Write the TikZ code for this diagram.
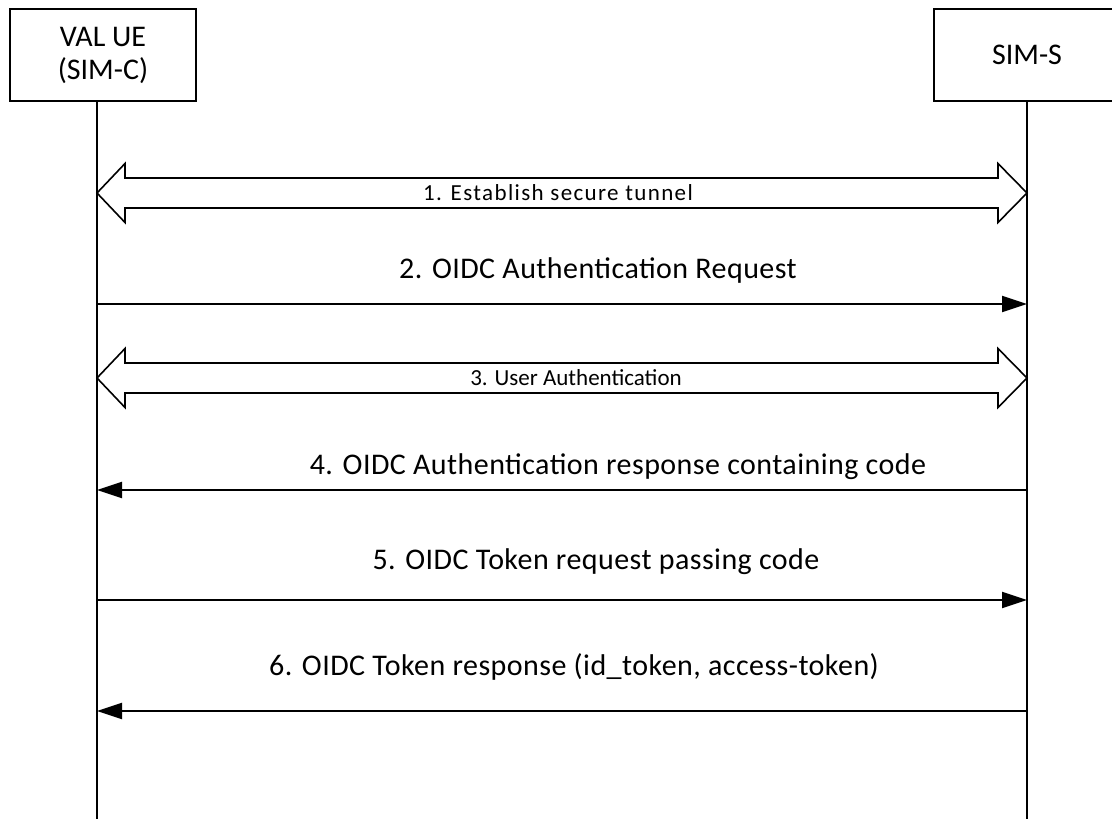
\documentclass[tikz,border=0pt]{standalone}
\usepackage{fontspec}
\setmainfont{Carlito}
\usetikzlibrary{arrows.meta}
\tikzset{
  actor/.style={draw,line width=2pt,minimum width=186pt,minimum height=92pt,inner sep=0pt,align=center,font=\fontsize{30}{33}\selectfont},
  life/.style={line width=2pt},
  msg/.style={line width=2pt,-{Triangle[length=25pt,width=16pt]}},
  hollow/.style={line width=1.6pt,line join=miter,fill=white},
  biglbl/.style={font=\fontsize{30}{34}\selectfont\addfontfeature{LetterSpace=1.5},inner sep=0pt},
  smalllbl/.style={font=\fontsize{23}{27}\selectfont,inner sep=0pt}
}
\newcommand{\hollowarrow}[1]{%
  \draw[hollow] (97,#1) -- (125,#1-29.5) -- (125,#1-15) -- (998,#1-15) -- (998,#1-29.5)
    -- (1027,#1) -- (998,#1+29.5) -- (998,#1+15) -- (125,#1+15) -- (125,#1+29.5) -- cycle;}
\begin{document}
\begin{tikzpicture}[x=1pt,y=-1pt]
\clip (0,0) rectangle (1112,819);
\useasboundingbox (0,0) rectangle (1112,819);
% actors
\node[actor] (ue) at (103,55) {VAL UE\\(SIM-C)};
\node[actor] (sims) at (1027,55) {SIM-S};
% lifelines
\coordinate (ueb) at (97,101);
\coordinate (ueend) at (97,819);
\coordinate (ssb) at (1027,101);
\coordinate (ssend) at (1027,819);
\draw[life] (ueb) -- (ueend);
\draw[life] (ssb) -- (ssend);
% lifeline points
\coordinate (u2) at (97,304);  \coordinate (s2) at (1027,304);
\coordinate (u4) at (97,490);  \coordinate (s4) at (1027,490);
\coordinate (u5) at (97,600);  \coordinate (s5) at (1027,600);
\coordinate (u6) at (97,711);  \coordinate (s6) at (1027,711);
% 1
\hollowarrow{193}
\node[smalllbl] (l1) at (558,193) {\addfontfeature{LetterSpace=6}1. Establish secure tunnel};
% 2
\draw[msg] (u2) -- (s2);
\node[biglbl] (l2) at (598,270) {2. OIDC Authentication Request};
% 3
\hollowarrow{378}
\node[smalllbl] (l3) at (576,378) {3. User Authentication};
% 4
\draw[msg] (s4) -- (u4);
\node[biglbl] (l4) at (618,467) {4. OIDC Authentication response containing code};
% 5
\draw[msg] (u5) -- (s5);
\node[biglbl] (l5) at (596,562) {5. OIDC Token request passing code};
% 6
\draw[msg] (s6) -- (u6);
\node[biglbl] (l6) at (574,667) {6. OIDC Token response (id\_token, access-token)};
\end{tikzpicture}
\end{document}
